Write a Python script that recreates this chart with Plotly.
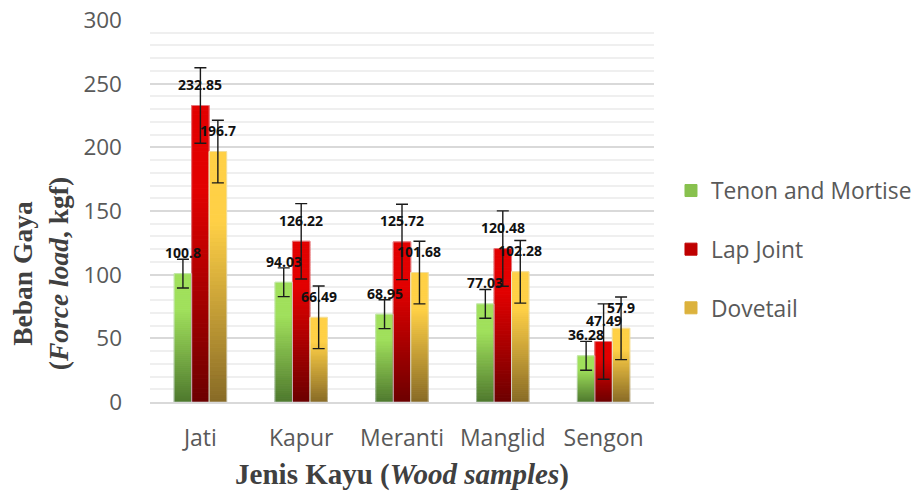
import plotly.graph_objects as go

categories = ["Jati", "Kapur", "Meranti", "Manglid", "Sengon"]
series_names = ["Tenon and Mortise", "Lap Joint", "Dovetail"]
tenon = [100.8, 94.03, 68.95, 77.03, 36.28]
lap = [232.85, 126.22, 125.72, 120.48, 47.49]
dovetail = [196.7, 66.49, 101.68, 102.28, 57.9]
tenon_err = [11.3, 11.3, 11.3, 11.3, 11.3]
lap_err = [29.6, 29.6, 29.6, 29.6, 29.6]
dovetail_err = [24.6, 24.6, 24.6, 24.6, 24.6]

values = [tenon, lap, dovetail]
errors = [tenon_err, lap_err, dovetail_err]
# (top colour, bottom colour) of each gradient
grad = [((160, 224, 92), (78, 120, 46)),
        ((226, 0, 0), (108, 0, 0)),
        ((255, 208, 70), (135, 106, 38))]

N = 64
BARGAP = 0.48
fig = go.Figure()


def mix(c1, c2, t):
    return "rgb(%d,%d,%d)" % tuple(round(a + (b - a) * t) for a, b in zip(c2, c1))


for s, (name, vals, (top, bot)) in enumerate(zip(series_names, values, grad)):
    for k in range(N):
        f = (k + 0.5) / N
        t = min(1.0, f / 0.72)
        col = mix(top, bot, t)
        fig.add_trace(go.Bar(
            x=categories, y=[v / N for v in vals], base=[v * k / N for v in vals],
            offsetgroup=str(s), name=name, legendgroup=name,
            showlegend=(k == N // 2), legendrank=s,
            marker=dict(color=col, line=dict(color=col, width=1)),
            hoverinfo="skip"))

for s, (name, vals, err) in enumerate(zip(series_names, values, errors)):
    fig.add_trace(go.Bar(
        x=categories, y=vals, offsetgroup=str(s), name=name, showlegend=False,
        marker=dict(color="rgba(0,0,0,0)"),
        error_y=dict(type="data", array=err, visible=True, color="#1a1a1a",
                     thickness=1.4, width=6)))

bw = (1 - BARGAP) / 3
for s, vals in enumerate(values):
    for i, v in enumerate(vals):
        fig.add_annotation(x=i + (s - 1) * bw, y=v, yshift=21, text="<b>%g</b>" % v,
                           showarrow=False, font=dict(family="Open Sans", size=14, color="#111"),
                           xanchor="center", yanchor="middle")

fig.add_annotation(xref="paper", yref="paper", x=-0.218, y=0.335, textangle=-90,
                   xanchor="center", yanchor="middle",
                   text="<b>Beban Gaya<br>(<i>Force load</i>, kgf)</b>", showarrow=False,
                   font=dict(family="Liberation Serif", size=27.5, color="#404040"))

fig.update_layout(
    width=922, height=493, barmode="group", bargap=BARGAP, bargroupgap=0,
    plot_bgcolor="white", paper_bgcolor="white",
    margin=dict(l=142, r=276, t=12, b=99, autoexpand=False),
    font=dict(family="Open Sans", color="#595959"),
    legend=dict(x=1.0337, y=0.40, yanchor="middle", font=dict(size=22.8, color="#595959"),
                tracegroupgap=26, traceorder="grouped"),
    xaxis=dict(tickfont=dict(size=23), ticklabelstandoff=14, showline=True, automargin=False,
               linecolor="#d9d9d9", linewidth=2,
               title=dict(text="<b>Jenis Kayu (<i>Wood samples</i>)</b>",
                          font=dict(family="Liberation Serif", size=29, color="#404040"),
                          standoff=12)),
    yaxis=dict(range=[0, 300], dtick=50, tickfont=dict(size=22.5), ticklabelstandoff=27,
               automargin=False, ticklabeloverflow="allow",
               gridcolor="#d9d9d9", gridwidth=2, zeroline=False,
               minor=dict(dtick=10, showgrid=True, gridcolor="#efefef", gridwidth=2)),
)

fig.write_html("out.html")
